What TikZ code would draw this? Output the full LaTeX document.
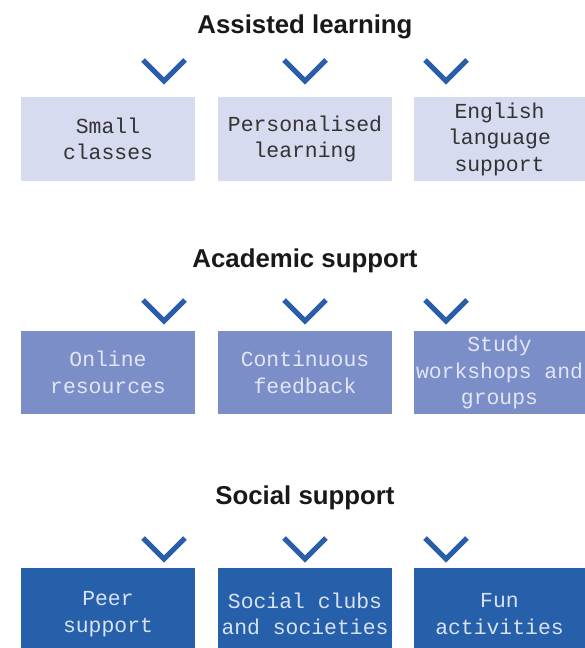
\documentclass[tikz,border=0pt]{standalone}
\usepackage{fontspec}
\usetikzlibrary{calc}
\setmainfont{Liberation Sans}
\newfontfamily\monofnt{Liberation Mono}
\definecolor{chev}{HTML}{2A5EA8}
\definecolor{boxA}{HTML}{D6DBEF}
\definecolor{boxB}{HTML}{7B8EC8}
\definecolor{boxC}{HTML}{2660AB}
\definecolor{txtA}{HTML}{333333}
\definecolor{txtB}{HTML}{E2E6F4}
\definecolor{txtC}{HTML}{D9E2F2}
\begin{document}
\begin{tikzpicture}[x=1pt,y=-1pt,
  heading/.style={font=\bfseries\fontsize{25.8}{30}\selectfont, text=black!90, inner sep=0pt, anchor=base},
  chevron/.style={draw=chev, line width=5pt, miter limit=10, line join=miter},
  itembox/.style={minimum width=174pt, minimum height=84pt, inner sep=0pt, align=center,
     font=\monofnt\fontsize{21.4}{26.5}\selectfont},
  rowA/.style={itembox, fill=boxA, text=txtA},
  rowB/.style={itembox, fill=boxB, text=txtB, minimum height=83pt},
  rowC/.style={itembox, fill=boxC, text=txtC, minimum height=92pt}
]
\useasboundingbox (0,0) rectangle (585,648);
\fill[white] (0,0) rectangle (585,648);

% Row 1
\node[heading] (h1) at (305,33) {Assisted learning};
\foreach \cx/\nm in {164/c11,305/c12,446/c13}{
  \coordinate (\nm) at (\cx,81);
  \draw[chevron] ($(\nm)+(-21,-21)$) -- (\nm) -- ($(\nm)+(21,-21)$);
}
\node[rowA] (a1) at (108,139) {Small\\classes};
\node[rowA] (a2) at (305,139) {Personalised\\learning};
\node[rowA, minimum width=171pt] (a3) at (499.5,139) {English\\language\\support};

% Row 2
\node[heading] (h2) at (305,267) {Academic support};
\foreach \cx/\nm in {164/c21,305/c22,446/c23}{
  \coordinate (\nm) at (\cx,321);
  \draw[chevron] ($(\nm)+(-21,-21)$) -- (\nm) -- ($(\nm)+(21,-21)$);
}
\node[rowB] (b1) at (108,372.5) {Online\\resources};
\node[rowB] (b2) at (305,372.5) {Continuous\\feedback};
\node[rowB, minimum width=171pt] (b3) at (499.5,372.5) {Study\\workshops and\\groups};

% Row 3
\node[heading] (h3) at (305,504) {Social support};
\foreach \cx/\nm in {164/c31,305/c32,446/c33}{
  \coordinate (\nm) at (\cx,559);
  \draw[chevron] ($(\nm)+(-21,-21)$) -- (\nm) -- ($(\nm)+(21,-21)$);
}
\node[rowC] (s1) at (108,614) {Peer\\support};
\node[rowC] (s2) at (305,614) {Social clubs\\and societies};
\node[rowC, minimum width=171pt] (s3) at (499.5,614) {Fun\\activities};
\end{tikzpicture}
\end{document}
